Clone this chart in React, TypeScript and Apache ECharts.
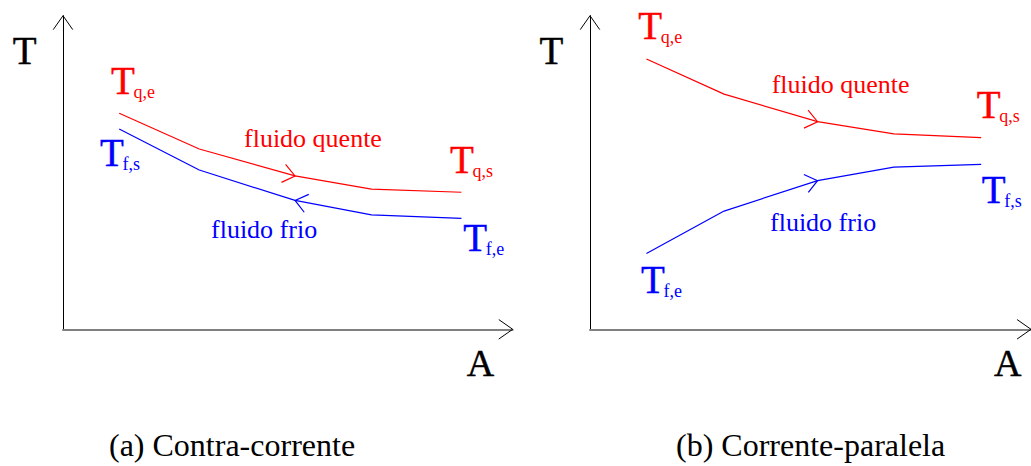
import React, { useEffect, useRef } from "react";
import * as echarts from "echarts";

// Temperature profiles of the two fluids along the exchange area A (arbitrary units, 0–100).
// (a) counter-current arrangement
const areaCounter = [12.5, 30.3, 51.6, 68.6, 88.6];
const hotCounter = [68.9, 57.5, 48.9, 44.7, 43.7];
const coldCounter = [63.9, 50.8, 41.1, 36.5, 35.4];

// (b) parallel-flow arrangement
const areaParallel = [12.8, 30.4, 51.6, 68.9, 88.7];
const hotParallel = [86.2, 75.0, 66.2, 62.3, 61.1];
const coldParallel = [24.2, 37.7, 47.4, 51.7, 52.6];

// vertex of each profile that carries the flow-direction chevron
const arrowIndex = 2;

const captions = ["(a) Contra-corrente", "(b) Corrente-paralela"];
const axisNames = ["T", "A"];
const fluidNames = ["fluido quente", "fluido frio"];
const subscripts = ["q,e", "q,s", "f,e", "f,s"];

const RED = "#ff0000";
const BLUE = "#0000ff";
const SERIF = "'Times New Roman', 'Liberation Serif', serif";

type Pt = [number, number];

const zip = (xs: number[], ys: number[]) => xs.map((x, i) => [x, ys[i]]);

function unit(v: Pt): Pt {
  const l = Math.hypot(v[0], v[1]) || 1;
  return [v[0] / l, v[1] / l];
}

// Open chevron with its tip at p, pointing along dir.
function chevron(p: Pt, dir: Pt, len: number, halfAngleDeg: number): Pt[] {
  const back: Pt = [-dir[0], -dir[1]];
  const a = (halfAngleDeg * Math.PI) / 180;
  const rot = (v: Pt, t: number): Pt => [
    v[0] * Math.cos(t) - v[1] * Math.sin(t),
    v[0] * Math.sin(t) + v[1] * Math.cos(t),
  ];
  const w1 = rot(back, a);
  const w2 = rot(back, -a);
  return [
    [p[0] + w1[0] * len, p[1] + w1[1] * len],
    p,
    [p[0] + w2[0] * len, p[1] + w2[1] * len],
  ];
}

function profileSeries(xs: number[], ys: number[], color: string, grid: number) {
  return {
    type: "line",
    xAxisIndex: grid,
    yAxisIndex: grid,
    data: zip(xs, ys),
    symbol: "none",
    showSymbol: false,
    silent: true,
    color,
    lineStyle: { color, width: 1.2 },
  };
}

// Flow-direction chevron drawn at one vertex of a profile (sense +1 = towards larger A).
function flowArrowSeries(xs: number[], ys: number[], sense: number, color: string, grid: number) {
  const i = arrowIndex;
  return {
    type: "custom",
    xAxisIndex: grid,
    yAxisIndex: grid,
    silent: true,
    clip: false,
    encode: { x: 0, y: 1 },
    data: [[xs[i], ys[i]]],
    renderItem: (_params: any, api: any) => {
      const p = api.coord([api.value(0), api.value(1)]) as Pt;
      const a = api.coord([xs[i - 1], ys[i - 1]]) as Pt;
      const b = api.coord([xs[i + 1], ys[i + 1]]) as Pt;
      const d1 = unit([p[0] - a[0], p[1] - a[1]]);
      const d2 = unit([b[0] - p[0], b[1] - p[1]]);
      const d = unit([(d1[0] + d2[0]) * sense, (d1[1] + d2[1]) * sense]);
      return {
        type: "polyline",
        shape: { points: chevron(p, d, 15, 38) },
        style: { stroke: color, fill: "none", lineWidth: 1.2 },
      };
    },
  };
}

// Open arrowheads at the far ends of both axes of a grid.
function axisArrowSeries(grid: number) {
  return {
    type: "custom",
    xAxisIndex: grid,
    yAxisIndex: grid,
    silent: true,
    clip: false,
    encode: { x: 0, y: 1 },
    data: [
      [100, 0],
      [0, 100],
    ],
    renderItem: (_params: any, api: any) => {
      const p = api.coord([api.value(0), api.value(1)]) as Pt;
      const o = api.coord([0, 0]) as Pt;
      const d = unit([p[0] - o[0], p[1] - o[1]]);
      return {
        type: "polyline",
        shape: { points: chevron(p, d, 17, 35) },
        style: { stroke: "#000", fill: "none", lineWidth: 1 },
      };
    },
  };
}

// Text placed by its left edge and alphabetic baseline; `weight` adds a thin outline.
function text(str: string, x: number, baseline: number, size: number, color: string, weight = 0) {
  return {
    type: "text",
    x,
    y: baseline - 0.34 * size,
    silent: true,
    style: {
      text: str,
      font: `${size}px ${SERIF}`,
      fill: color,
      stroke: weight > 0 ? color : "none",
      lineWidth: weight,
      textAlign: "left",
      align: "left",
      textVerticalAlign: "middle",
      verticalAlign: "middle",
    },
  };
}

// Temperature symbol T with a subscript.
function tLabel(sub: string, x: number, baseline: number, color: string) {
  return [text("T", x, baseline, 39, color, 0.4), text(sub, x + 22.5, baseline + 4.5, 18, color)];
}

export default function App() {
  const ref = useRef<HTMLDivElement>(null);

  useEffect(() => {
    if (!ref.current) return;
    const chart = echarts.init(ref.current, undefined, { renderer: "svg" });

    const grids = [
      { left: 63, top: 15.7, width: 449.7, height: 313.6 },
      { left: 590, top: 15.7, width: 450, height: 313.6 },
    ];

    const axisBase = {
      type: "value",
      min: 0,
      max: 100,
      axisTick: { show: false },
      axisLabel: { show: false },
      splitLine: { show: false },
    };

    const graphic = [
      // panel (a)
      text(axisNames[0], 12.7, 63.3, 39, "#000", 0.4),
      text(axisNames[1], 466.7, 376, 38, "#000", 0.4),
      ...tLabel(subscripts[0], 111, 93.3, RED),
      ...tLabel(subscripts[3], 100, 166, BLUE),
      ...tLabel(subscripts[1], 450, 172.3, RED),
      ...tLabel(subscripts[2], 463.3, 250.7, BLUE),
      text(fluidNames[0], 244, 147.7, 26, RED),
      text(fluidNames[1], 211, 238.7, 26, BLUE),
      text(captions[0], 109, 456, 32, "#000"),
      // panel (b)
      text(axisNames[0], 539.4, 63.3, 39, "#000", 0.4),
      text(axisNames[1], 994, 376, 38, "#000", 0.4),
      ...tLabel(subscripts[0], 638.3, 38.3, RED),
      ...tLabel(subscripts[1], 976.7, 117.7, RED),
      ...tLabel(subscripts[3], 981.7, 202.7, BLUE),
      ...tLabel(subscripts[2], 641, 292.3, BLUE),
      text(fluidNames[0], 771.7, 93.3, 26, RED),
      text(fluidNames[1], 770, 231.7, 26, BLUE),
      text(captions[1], 676, 456, 32, "#000"),
    ];

    chart.setOption({
      animation: false,
      backgroundColor: "#fff",
      grid: grids,
      xAxis: [0, 1].map((g) => ({
        ...axisBase,
        gridIndex: g,
        axisLine: { show: true, onZero: false, lineStyle: { color: "#808080", width: 2 } },
      })),
      yAxis: [0, 1].map((g) => ({
        ...axisBase,
        gridIndex: g,
        axisLine: { show: true, onZero: false, lineStyle: { color: "#000", width: 1 } },
      })),
      series: [
        profileSeries(areaCounter, hotCounter, RED, 0),
        profileSeries(areaCounter, coldCounter, BLUE, 0),
        flowArrowSeries(areaCounter, hotCounter, 1, RED, 0),
        flowArrowSeries(areaCounter, coldCounter, -1, BLUE, 0),
        axisArrowSeries(0),
        profileSeries(areaParallel, hotParallel, RED, 1),
        profileSeries(areaParallel, coldParallel, BLUE, 1),
        flowArrowSeries(areaParallel, hotParallel, 1, RED, 1),
        flowArrowSeries(areaParallel, coldParallel, 1, BLUE, 1),
        axisArrowSeries(1),
      ],
      graphic,
    });

    return () => chart.dispose();
  }, []);

  return (
    <div
      ref={ref}
      style={{ position: "fixed", left: 0, top: 0, width: 1031, height: 466, background: "#fff" }}
    />
  );
}
